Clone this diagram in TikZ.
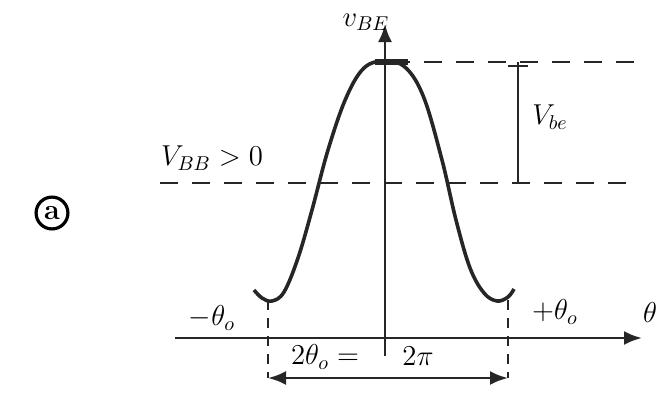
\documentclass[tikz,border=0pt]{standalone}
\usetikzlibrary{arrows.meta}
\begin{document}
\begin{tikzpicture}[x=0.5pt,y=-0.5pt,
  line/.style={line width=1.4pt,black!85},
  hdash/.style={line width=1.4pt,black!85,dash pattern=on 9pt off 7pt},
  vdash/.style={line width=1.2pt,black!85,dash pattern=on 5pt off 4pt},
  lbl/.style={font=\Large\bfseries,inner sep=1pt},
  tip/.style={-{Latex[length=9pt,width=7pt]}}]
\useasboundingbox (0,0) rectangle (660,414);
% axes
\coordinate (ybot) at (385,356);
\coordinate (ytop) at (385,24);
\coordinate (xl) at (175,338);
\coordinate (xr) at (642,338);
\draw[line,tip] (ybot) -- (ytop);
\draw[line,tip] (xl) -- (xr);
\node[lbl] (vbe) at (366,22) {$v_{BE}$};
\node[lbl] (theta) at (650,312) {$\theta$};
% dashed levels
\coordinate (d1l) at (160,183);
\coordinate (d1r) at (640,183);
\coordinate (d2l) at (392,62);
\coordinate (d2r) at (640,62);
\draw[hdash] (d1l) -- (d1r);
\draw[hdash] (d2l) -- (d2r);
\node[lbl] (vbb) at (212,158) {$V_{BB}>0$};
% amplitude marker
\coordinate (at) at (518,62);
\coordinate (ab) at (518,183);
\draw[line] (at) -- (ab);
\draw[line] (508,66) -- (528,66);
\node[lbl] (vbe2) at (550,117) {$V_{be}$};
% curve
\draw[line,line width=1.8pt] plot[smooth,tension=0.6] coordinates {
 (254,290) (262,298) (272,301) (284,292) (298,258) (312,210) (328,150)
 (346,98) (364,68) (385,61) (406,68) (424,98) (442,160) (456,220) (470,268)
 (484,293) (497,301) (508,297) (514,289)};
\draw[line,line width=2.6pt] (375,62) -- (408,62);
% conduction angle
\coordinate (cl) at (268,300);
\coordinate (cr) at (508,300);
\coordinate (bl) at (268,378);
\coordinate (br) at (508,378);
\draw[vdash] (cl) -- (bl);
\draw[vdash] (cr) -- (br);
\draw[line,{Latex[length=9pt,width=7pt]}-{Latex[length=9pt,width=7pt]}] (bl) -- (br);
\node[lbl] (mth) at (212,318) {$-\theta_o$};
\node[lbl] (pth) at (555,312) {$+\theta_o$};
\node[lbl] (ang1) at (325,357) {$2\theta_o =$};
\node[lbl] (ang2) at (418,356) {$2\pi$};
% label a
\node[draw,circle,line width=1.6pt,inner sep=2pt,font=\Large\bfseries] (a) at (52,213) {a};
\end{tikzpicture}
\end{document}
